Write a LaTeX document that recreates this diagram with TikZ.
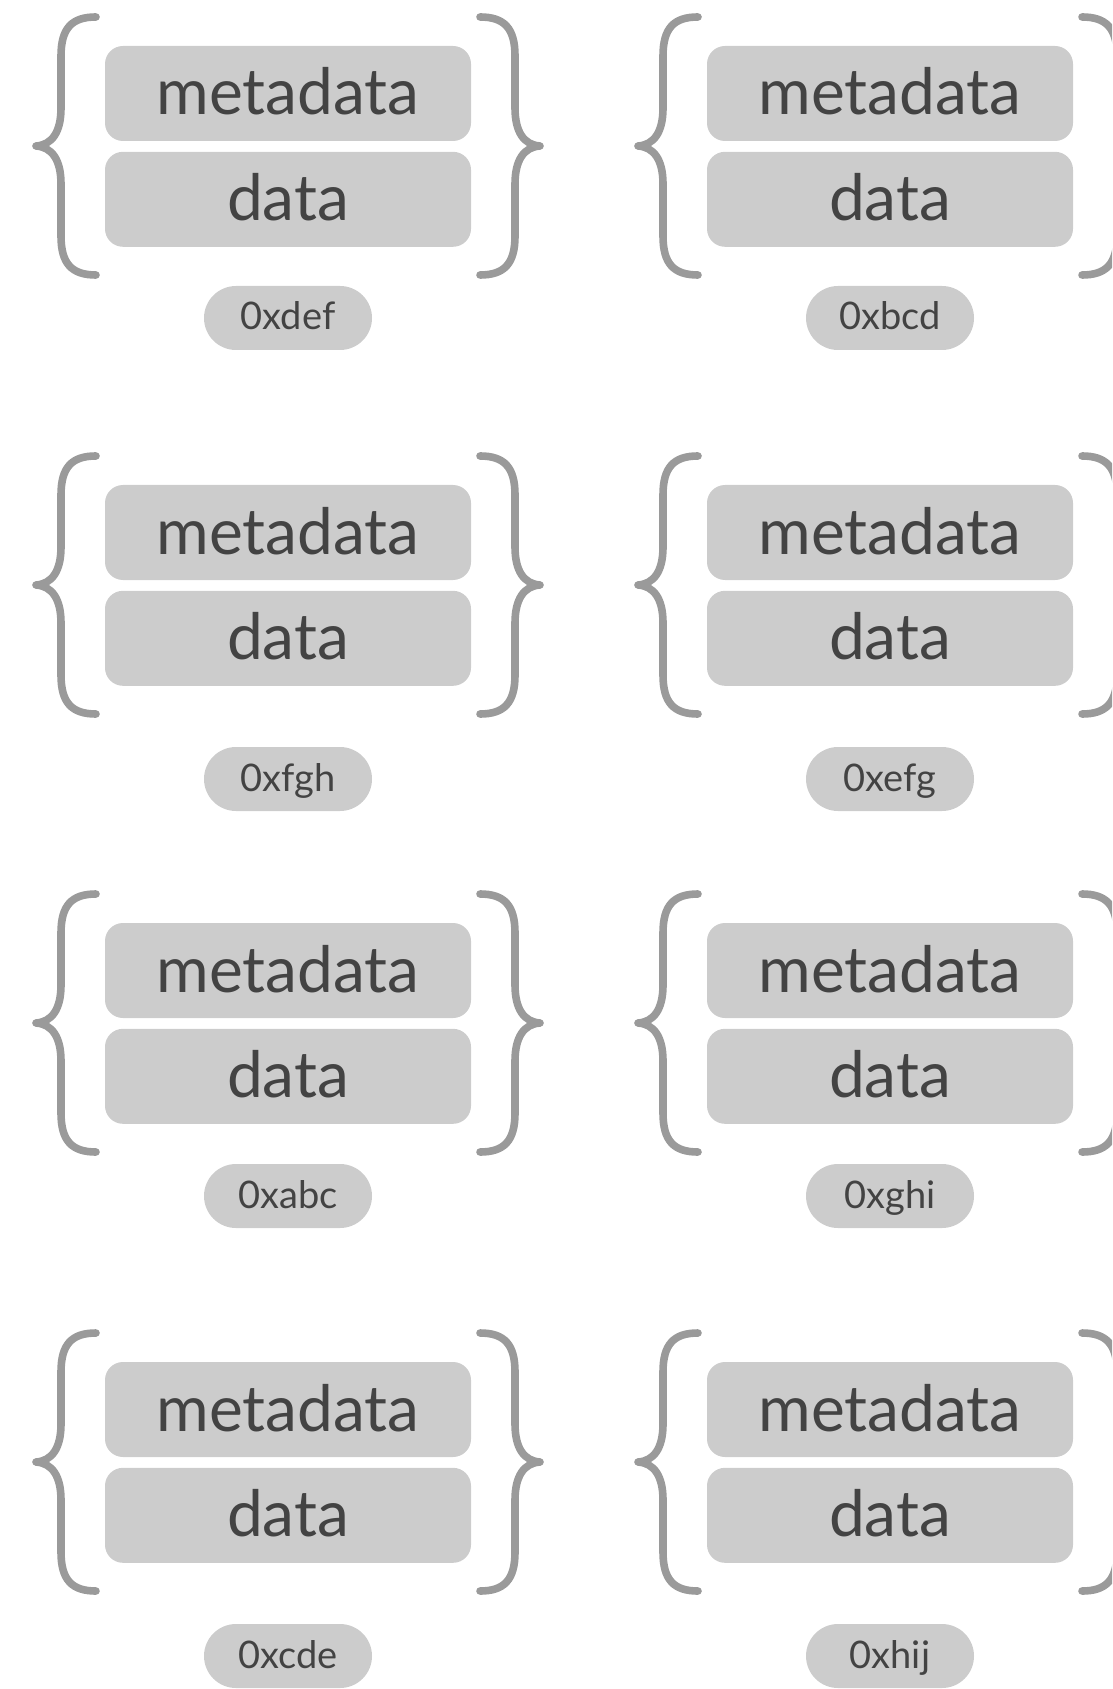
\documentclass[tikz,border=0pt]{standalone}
\usepackage{fontspec}
\setmainfont{Lato}
\usetikzlibrary{positioning}

\definecolor{boxgray}{HTML}{CCCCCC}
\definecolor{inkgray}{HTML}{434343}
\definecolor{bracegray}{HTML}{9A9A9A}

\tikzset{
  field/.style={fill=boxgray, rounded corners=9pt, minimum width=183pt, minimum height=47.5pt,
    inner sep=0pt, text=inkgray, font=\fontsize{32}{32}\selectfont, text height=21.5pt, text depth=0pt},
  addr/.style={fill=boxgray, rounded corners=16pt, minimum width=84pt, minimum height=32pt,
    inner sep=0pt, text=inkgray, font=\fontsize{19}{19}\selectfont, text height=12pt, text depth=0pt},
  curly/.style={draw=bracegray, line width=3.8pt, line cap=round, line join=round},
  halfbrace/.pic={
    \draw[curly] (-192,-129) .. controls (-216,-129) and (-227,-118) .. (-227,-90)
      -- (-227,-38) .. controls (-227,-14) and (-236,-1) .. (-252,0)
      .. controls (-236,1) and (-227,14) .. (-227,38)
      -- (-227,90) .. controls (-227,118) and (-216,129) .. (-192,129);
  },
}

\begin{document}
\begin{tikzpicture}[x=0.5pt, y=-0.5pt]
  \path[use as bounding box, clip] (0,0) rectangle (1112,1689);

  \foreach \r/\cy/\ly/\la/\lb in {1/146/318/0xdef/0xbcd, 2/585/779/0xfgh/0xefg,
                                  3/1023/1196/0xabc/0xghi, 4/1462/1656/0xcde/0xhij} {
    \foreach \c/\cx/\lab in {1/288/\la, 2/890/\lb} {
      \node[field] (meta-\r-\c) at (\cx,\cy-52.5) {metadata};
      \node[field, below=5pt of meta-\r-\c] (data-\r-\c) {data};
      \node[addr] (addr-\r-\c) at (\cx,\ly) {\lab};
      % braces round the record
      \pic at (\cx,\cy) {halfbrace};
      \pic[xscale=-1] at (\cx,\cy) {halfbrace};
    }
  }
\end{tikzpicture}
\end{document}
